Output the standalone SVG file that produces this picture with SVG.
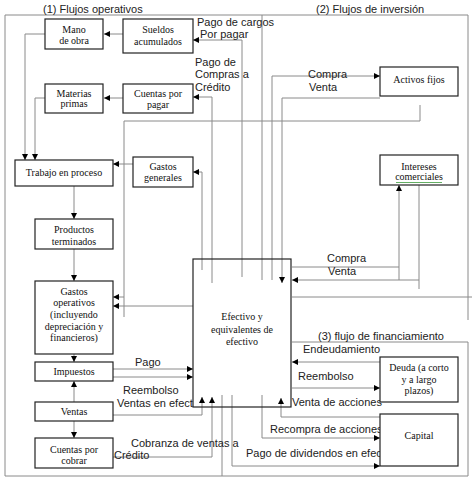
<svg xmlns="http://www.w3.org/2000/svg" width="474" height="481" viewBox="0 0 474 481">
<defs>
<marker id="ah" viewBox="0 0 10 10" refX="10" refY="5" markerWidth="6" markerHeight="6" markerUnits="userSpaceOnUse" orient="auto"><path d="M0,0 L10,5 L0,10 z" fill="#000"/></marker>
<style>
.box{fill:#fff;stroke:#222;stroke-width:1.2}
.bt{font-family:"Liberation Serif","Times New Roman",serif;font-size:10px;fill:#111;text-anchor:middle}
.lb{font-family:"Liberation Sans",Arial,sans-serif;font-size:11px;fill:#222}
.c{fill:none;stroke:#8a8a8a;stroke-width:1}
.a{fill:none;stroke:#8a8a8a;stroke-width:1;marker-end:url(#ah)}
.fr{fill:none;stroke:#8a8a8a;stroke-width:1}
</style>
</defs>
<rect width="474" height="481" fill="#fff"/>

<g id="frames">
<path class="fr" d="M5,15 H468 V320 M468,342 V476 H5 V15"/>
<path class="fr" d="M292,297 H472"/>
<path class="fr" d="M292,342 H468"/>
</g>

<g id="region-labels">
<text class="lb" x="43" y="13">(1) Flujos operativos</text>
<text class="lb" x="316" y="13">(2) Flujos de inversión</text>
<text class="lb" x="318" y="340">(3) flujo de financiamiento</text>
</g>

<g id="connectors">
<path class="a" d="M123,34 H104"/>
<path class="a" d="M45,34 H25 V160"/>
<path class="a" d="M123,98 H104"/>
<path class="a" d="M45,98 H35 V160"/>
<path class="a" d="M133,164 H113"/>
<path class="a" d="M74,186 V219"/>
<path class="a" d="M74,249 V281"/>
<path class="a" d="M74,354 V362"/>
<path class="a" d="M74,402 V381"/>
<path class="a" d="M74,421 V438"/>
<path class="a" d="M113,369 H193"/>
<path class="a" d="M113,377 H193"/>
<path class="a" d="M113,415 H202 V397"/>
<path class="a" d="M113,457 H212 V397"/>
<path class="a" d="M193,306 H113"/>
<path class="c" d="M420,105 V121 H124 V317"/>
<path class="a" d="M124,297 H113"/>
<path class="a" d="M202,270 V172 H193"/>
<path class="a" d="M212,283 V97 H193"/>
<path class="a" d="M242,277 V40 H193"/>
<path class="c" d="M262,15 V280"/>
<path class="a" d="M272,280 V76 H380"/>
<path class="a" d="M380,98 H282 V283"/>
<path class="a" d="M292,267 H399 M399,280 V185"/>
<path class="a" d="M419,185 V289 M419,280 H292"/>
<path class="a" d="M380,362 H292"/>
<path class="a" d="M292,388 H380"/>
<path class="a" d="M380,417 H281 V398"/>
<path class="a" d="M262,395 V438 H380"/>
<path class="a" d="M232,395 V466 H380"/>
<path class="c" d="M222,395 V476"/>
</g>

<g id="connector-labels">
<text class="lb" x="197" y="26">Pago de cargos</text>
<text class="lb" x="200" y="38">Por pagar</text>
<text class="lb" x="195" y="66">Pago de</text>
<text class="lb" x="195" y="78">Compras a</text>
<text class="lb" x="195" y="91">Crédito</text>
<text class="lb" x="308" y="78">Compra</text>
<text class="lb" x="309" y="91">Venta</text>
<text class="lb" x="327" y="262">Compra</text>
<text class="lb" x="328" y="275">Venta</text>
<text class="lb" x="303" y="353">Endeudamiento</text>
<text class="lb" x="298" y="380">Reembolso</text>
<text class="lb" x="292" y="406">Venta de acciones</text>
<text class="lb" x="270" y="433">Recompra de acciones</text>
<text class="lb" x="246" y="457">Pago de dividendos en efec</text>
<text class="lb" x="135" y="366">Pago</text>
<text class="lb" x="123" y="394">Reembolso</text>
<text class="lb" x="117" y="407">Ventas en efect</text>
<text class="lb" x="131" y="447">Cobranza de ventas a</text>
<text class="lb" x="114" y="459">Crédito</text>
</g>

<g id="n-mano"><rect class="box" x="45" y="19" width="58" height="30"/><text class="bt" x="74" y="33">Mano</text><text class="bt" x="74" y="44">de obra</text></g>
<g id="n-sueldos"><rect class="box" x="123" y="19" width="70" height="34"/><text class="bt" x="158" y="33">Sueldos</text><text class="bt" x="158" y="45">acumulados</text></g>
<g id="n-materias"><rect class="box" x="45" y="84" width="58" height="29"/><text class="bt" x="74" y="97">Materias</text><text class="bt" x="74" y="107">primas</text></g>
<g id="n-cpp"><rect class="box" x="123" y="84" width="70" height="29"/><text class="bt" x="158" y="97">Cuentas por</text><text class="bt" x="158" y="108">pagar</text></g>
<g id="n-trabajo"><rect class="box" x="15" y="160" width="98" height="26"/><text class="bt" x="64" y="176">Trabajo en proceso</text></g>
<g id="n-gastosgen"><rect class="box" x="133" y="157" width="60" height="30"/><text class="bt" x="163" y="170">Gastos</text><text class="bt" x="163" y="181">generales</text></g>
<g id="n-productos"><rect class="box" x="35" y="219" width="78" height="30"/><text class="bt" x="74" y="233">Productos</text><text class="bt" x="74" y="245">terminados</text></g>
<g id="n-gastosop"><rect class="box" x="35" y="281" width="78" height="73"/><text class="bt" x="74" y="295">Gastos</text><text class="bt" x="74" y="306">operativos</text><text class="bt" x="74" y="318">(incluyendo</text><text class="bt" x="74" y="330">depreciación y</text><text class="bt" x="74" y="341">financieros)</text></g>
<g id="n-impuestos"><rect class="box" x="35" y="362" width="78" height="19"/><text class="bt" x="74" y="375">Impuestos</text></g>
<g id="n-ventas"><rect class="box" x="35" y="402" width="78" height="19"/><text class="bt" x="74" y="415">Ventas</text></g>
<g id="n-cpc"><rect class="box" x="35" y="438" width="78" height="30"/><text class="bt" x="74" y="453">Cuentas por</text><text class="bt" x="74" y="464">cobrar</text></g>
<g id="n-activos"><rect class="box" x="380" y="67" width="78" height="29"/><text class="bt" x="419" y="83">Activos fijos</text></g>
<g id="n-intereses"><rect class="box" x="380" y="155" width="78" height="30"/><text class="bt" x="419" y="170">Intereses</text><text class="bt" x="419" y="180">comerciales</text><path d="M396,182.5 H442" stroke="#3c9a3c" stroke-width="0.8" fill="none"/></g>
<g id="n-efectivo"><rect x="193" y="259" width="98" height="148" fill="none" stroke="#222" stroke-width="1.2"/><text class="bt" x="242" y="320">Efectivo y</text><text class="bt" x="242" y="333">equivalentes de</text><text class="bt" x="242" y="345">efectivo</text></g>
<g id="n-deuda"><rect class="box" x="380" y="357" width="78" height="45"/><text class="bt" x="419" y="371">Deuda (a corto</text><text class="bt" x="419" y="383">y a largo</text><text class="bt" x="419" y="394">plazos)</text></g>
<g id="n-capital"><rect class="box" x="380" y="414" width="78" height="52"/><text class="bt" x="419" y="439">Capital</text></g>
</svg>
